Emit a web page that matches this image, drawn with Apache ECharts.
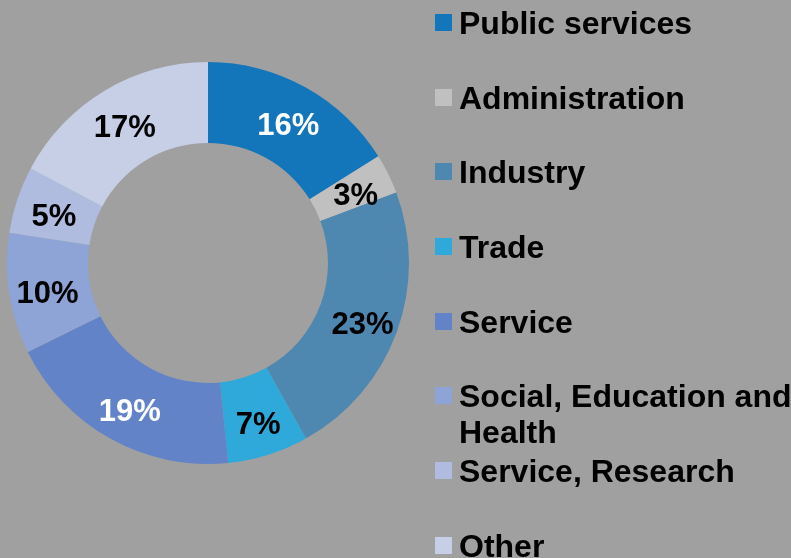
<!DOCTYPE html>
<html>
<head>
<meta charset="utf-8">
<script src="https://cdn.jsdelivr.net/npm/echarts@6/dist/echarts.min.js"></script>
<style>
html,body{margin:0;padding:0;background:#A0A0A0;}
#chart{width:791px;height:558px;}
</style>
</head>
<body>
<div id="chart"></div>
<script>
var categories = ['Public services', 'Administration', 'Industry', 'Trade', 'Service', 'Social, Education and\nHealth', 'Service, Research', 'Other'];
// shares (%); labels show them rounded
var values = [16.1, 3.2, 22.6, 6.5, 19.3, 9.7, 5.4, 17.2];
var colors = ['#1375BA', '#C0C0C0', '#4E87B0', '#2FA9D9', '#6283C8', '#8EA4D6', '#AFBCE0', '#C7CFE6'];
var labelColors = ['#FFFFFF', '#000000', '#000000', '#000000', '#FFFFFF', '#000000', '#000000', '#000000'];
var legendIconTops = [14, 89, 163, 238, 313, 387, 462, 537];

var FONT = '"Liberation Sans", Arial, sans-serif';
var LH = 36;

var data = categories.map(function (c, i) {
  return {
    name: c,
    value: values[i],
    itemStyle: { color: colors[i] },
    label: { color: labelColors[i] }
  };
});

var legends = categories.map(function (c, i) {
  var lines = c.split('\n');
  var n = lines.length;
  var total = n + (n - 1);
  var textTop = 8.5 - (LH * total) / 2 - 3;
  return {
    data: [c],
    left: 435,
    top: legendIconTops[i] + textTop,
    orient: 'vertical',
    padding: 0,
    itemWidth: 17,
    itemHeight: 17,
    itemGap: 0,
    icon: 'rect',
    selectedMode: false,
    formatter: function (name) {
      var ls = name.split('\n');
      var pre = '';
      for (var k = 1; k < ls.length; k++) pre += '{e|}\n';
      return pre + ls.map(function (l) { return '{t|' + l + '}'; }).join('\n');
    },
    textStyle: {
      fontFamily: FONT,
      fontWeight: 'bold',
      fontSize: 32,
      lineHeight: LH,
      color: '#000',
      rich: {
        t: {
          fontFamily: FONT,
          fontWeight: 'bold',
          fontSize: 32,
          lineHeight: LH,
          height: LH,
          color: '#000',
          padding: [6, 0, 0, 2]
        },
        e: {
          fontSize: 32,
          lineHeight: LH,
          height: LH,
          padding: [6, 0, 0, 0]
        }
      }
    }
  };
});

var chart = echarts.init(document.getElementById('chart'));
chart.setOption({
  backgroundColor: '#A0A0A0',
  animation: false,
  legend: legends,
  series: [{
    type: 'pie',
    center: [208, 263],
    radius: [120, 201],
    startAngle: 90,
    clockwise: true,
    avoidLabelOverlap: false,
    itemStyle: { borderWidth: 0 },
    label: {
      show: true,
      position: 'inside',
      formatter: function (p) { return Math.round(p.value) + '%'; },
      fontFamily: FONT,
      fontWeight: 'bold',
      fontSize: 31,
      offset: [1, 6]
    },
    labelLine: { show: false },
    emphasis: { disabled: true },
    data: data
  }]
});
</script>
</body>
</html>
